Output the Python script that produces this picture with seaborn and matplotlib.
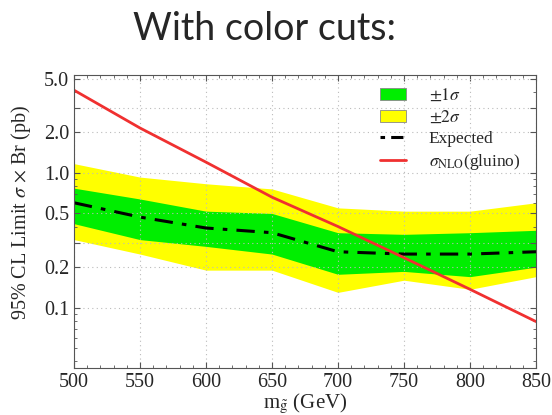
import numpy as np
import pandas as pd
import matplotlib
matplotlib.use("Agg")
import matplotlib.pyplot as plt
import matplotlib.ticker as mticker
from matplotlib.patches import Patch
from matplotlib.lines import Line2D
import seaborn as sns

mass = [500, 550, 600, 650, 700, 750, 800, 850]
expected = [0.60, 0.47, 0.39, 0.36, 0.26, 0.25, 0.25, 0.26]
one_sig_lo = [0.42, 0.32, 0.285, 0.25, 0.177, 0.186, 0.17, 0.20]
one_sig_hi = [0.77, 0.64, 0.52, 0.50, 0.36, 0.35, 0.36, 0.375]
two_sig_lo = [0.32, 0.25, 0.19, 0.19, 0.13, 0.16, 0.137, 0.17]
two_sig_hi = [1.17, 0.93, 0.83, 0.76, 0.55, 0.52, 0.52, 0.60]
sigma_nlo = [4.1, 2.15, 1.2, 0.66, 0.40, 0.235, 0.137, 0.079]

df = pd.DataFrame({"mass": mass, "expected": expected, "nlo": sigma_nlo})

sns.set_style("ticks")
plt.rcParams["font.family"] = ["Liberation Serif", "DejaVu Serif"]
plt.rcParams["mathtext.fontset"] = "stix"

fig = plt.figure(figsize=(5.52, 4.15), dpi=100)
ax = fig.add_axes([0.134, 0.113, 0.837, 0.706])

ax.fill_between(mass, two_sig_lo, two_sig_hi, color="#ffff00", lw=0, zorder=1)
ax.fill_between(mass, one_sig_lo, one_sig_hi, color="#00ee00", lw=0, zorder=2)
sns.lineplot(data=df, x="mass", y="expected", ax=ax, color="black", lw=2.2,
             linestyle=(0, (6, 3, 1.5, 3)), zorder=3)
sns.lineplot(data=df, x="mass", y="nlo", ax=ax, color="#f03030", lw=2, zorder=4)

ax.set_yscale("log")
ax.set_xlim(500, 850)
ax.set_ylim(0.0357, 5.3)
ax.set_xticks(mass)
ax.xaxis.set_minor_locator(mticker.MultipleLocator(10))
yt = [0.1, 0.2, 0.3, 0.5, 1.0, 2.0, 3.0, 5.0]
ax.set_yticks(yt)
ax.set_yticklabels(["0.1", "0.2", "", "0.5", "1.0", "2.0", "", "5.0"])
ax.yaxis.set_minor_locator(mticker.LogLocator(subs=np.arange(1, 10) * 1.0))
ax.yaxis.set_minor_formatter(mticker.NullFormatter())
ax.tick_params(which="both", direction="in", top=True, right=True,
               labelsize=14.5, color="#555555")
ax.tick_params(which="major", length=4)
ax.tick_params(which="minor", length=2)
ax.grid(True, which="major", color="#bbbbbb", linestyle=(0, (1, 3)), lw=0.8)
ax.set_axisbelow(False)
for s in ax.spines.values():
    s.set_color("#555555")
    s.set_zorder(5)

ax.set_xlabel(r"m$_{\tilde{\mathrm{g}}}$ (GeV)", fontsize=15, labelpad=0)
ax.set_ylabel(r"95% CL Limit $\sigma$ $\times$ Br (pb)", fontsize=14.5)
ax.yaxis.set_label_coords(-0.088, 0.532)

handles = [
    Patch(facecolor="#00ee00", edgecolor="#888888", lw=0.6),
    Patch(facecolor="#ffff00", edgecolor="#888888", lw=0.6),
    Line2D([], [], color="black", lw=2.2, linestyle=(0, (1.5, 2, 4, 2))),
    Line2D([], [], color="#f03030", lw=2),
]
labels = [r"$\pm 1\sigma$", r"$\pm 2\sigma$", "Expected", r"$\sigma_{\mathrm{NLO}}$(gluino)"]
ax.legend(handles, labels, loc="upper right", bbox_to_anchor=(1.0, 1.01),
          frameon=False, fontsize=12.5, handlelength=1.5, handletextpad=1.3,
          labelspacing=0.3)

fig.text(0.48, 0.93, "With color cuts:", ha="center", va="center",
         fontsize=27, family=["Lato", "DejaVu Sans"])

fig.savefig("out.png", dpi=100)
